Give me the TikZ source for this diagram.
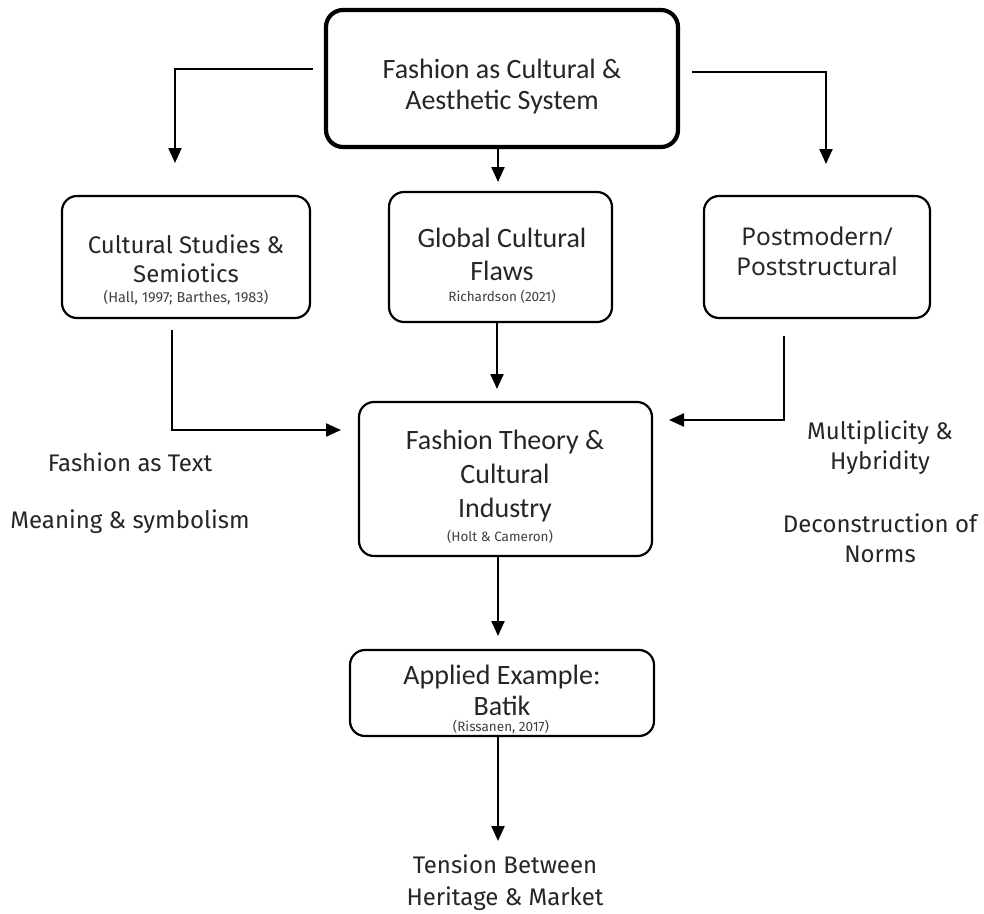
\documentclass[tikz,border=0pt]{standalone}
\usepackage{fontspec}
\usetikzlibrary{arrows.meta}
\newfontfamily\calfont{Carlito}
\newfontfamily\barfont{Fira Sans}
\newfontfamily\interfont{Noto Sans}
\tikzset{
  box/.style={draw=black, line width=2.2pt, rounded corners=15pt, fill=white, inner sep=0pt},
  topbox/.style={box, line width=4.2pt, rounded corners=17pt},
  link/.style={draw=black, line width=2.2pt, -{Triangle[length=15pt,width=13pt]}},
  caltxt/.style={font=\calfont\fontsize{28}{31}\selectfont, align=center, text=black!85, inner sep=0pt},
  bartxt/.style={font=\barfont\fontsize{24}{30}\selectfont, align=center, text=black!85, inner sep=0pt},
  intertxt/.style={font=\interfont\fontsize{24.5}{30}\selectfont, align=center, text=black!85, inner sep=0pt},
  cite/.style={font=\barfont\fontsize{13.5}{14}\selectfont, text=black!75, inner sep=0pt}
}
\begin{document}
\begin{tikzpicture}[x=1pt,y=-1pt]
\useasboundingbox[fill=white] (0,0) rectangle (984,913);

% boxes
\node[topbox, minimum width=352pt, minimum height=137pt] (top) at (502,78.5) {};
\node[box, minimum width=248pt, minimum height=122pt] (cs) at (186,257) {};
\node[box, minimum width=223pt, minimum height=130pt] (gc) at (500.5,257) {};
\node[box, minimum width=226pt, minimum height=122pt] (pm) at (817,257) {};
\node[box, minimum width=293pt, minimum height=154pt] (ft) at (505.5,479) {};
\node[box, minimum width=304pt, minimum height=86pt] (ae) at (502,693) {};

% box texts
\node[caltxt] (top-t) at (502,86.5) {Fashion as Cultural \&\\Aesthetic System};
\node[bartxt, font=\barfont\fontsize{24}{29}\selectfont] (cs-t) at (186,258.5) {Cultural Studies \&\\Semiotics};
\node[cite, font=\barfont\fontsize{14.5}{15}\selectfont] (cs-c) at (186,298) {(Hall, 1997; Barthes, 1983)};
\node[caltxt, font=\calfont\fontsize{28}{33}\selectfont] (gc-t) at (502,254.5) {Global Cultural\\Flaws};
\node[cite] (gc-c) at (502,297) {Richardson (2021)};
\node[intertxt] (pm-t) at (817,251) {Postmodern/\\Poststructural};
\node[caltxt, font=\calfont\fontsize{28}{34}\selectfont] (ft-t) at (505,476) {Fashion Theory \&\\Cultural\\Industry};
\node[cite] (ft-c) at (500,537) {(Holt \& Cameron)};
\node[caltxt, font=\calfont\fontsize{28}{31}\selectfont] (ae-t) at (502,690) {Applied Example:\\Batik};
\node[cite] (ae-c) at (501,727) {(Rissanen, 2017)};

% free texts
\node[bartxt] (txt) at (130,462) {Fashion as Text};
\node[bartxt] (sym) at (130,522) {Meaning \& symbolism};
\node[bartxt] (mh) at (880,448) {Multiplicity \&\\Hybridity};
\node[bartxt] (dn) at (880,538.5) {Deconstruction of\\Norms};
\node[bartxt, font=\barfont\fontsize{24}{32}\selectfont] (th) at (505,883) {Tension Between\\Heritage \& Market};

% bends and tips of the connectors
\coordinate (tl) at (313,69);
\coordinate (tl-end) at (175,163);
\coordinate (tr) at (692,72);
\coordinate (tr-end) at (826,164);
\coordinate (tc-end) at (498,182);
\coordinate (csd) at (172,330);
\coordinate (csd-end) at (341,430);
\coordinate (gcd) at (497,323);
\coordinate (gcd-end) at (497,389);
\coordinate (pmd) at (784,336);
\coordinate (pmd-end) at (669,420);
\coordinate (ftd-end) at (498,636);
\coordinate (aed-end) at (498,841);

% connectors
\draw[link] (tl) -| (tl-end);
\draw[link] (tr) -| (tr-end);
\draw[link] (top.south -| tc-end) -- (tc-end);
\draw[link] (csd) |- (csd-end);
\draw[link] (gcd) -- (gcd-end);
\draw[link] (pmd) |- (pmd-end);
\draw[link] (ft.south -| ftd-end) -- (ftd-end);
\draw[link] (ae.south -| aed-end) -- (aed-end);
\end{tikzpicture}
\end{document}
